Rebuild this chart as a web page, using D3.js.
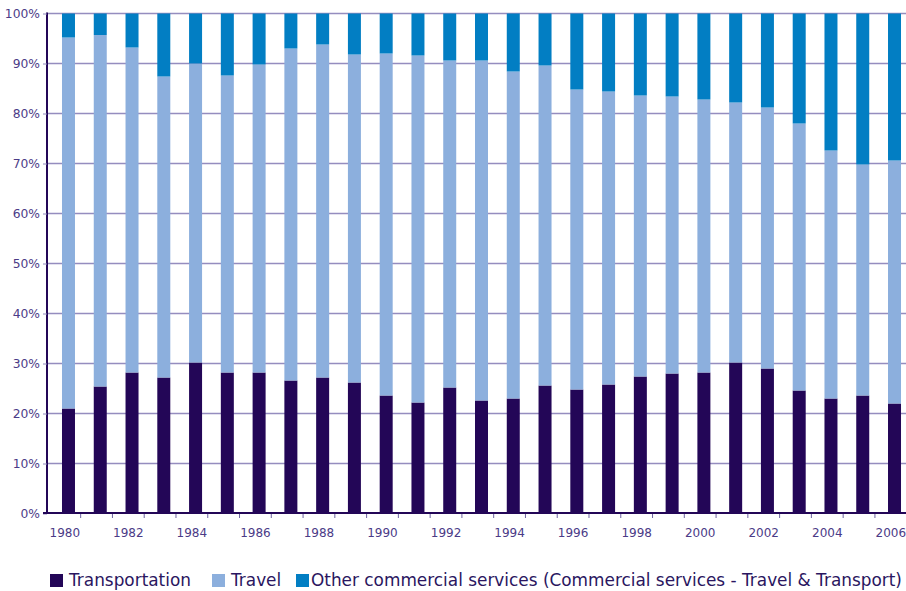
<!DOCTYPE html>
<html><head><meta charset="utf-8">
<script src="https://cdn.jsdelivr.net/npm/d3@7"></script>
<style>body{margin:0;background:#fff}svg{display:block}text{font-family:"DejaVu Sans",sans-serif}</style>
</head><body><svg id="c" width="906" height="591"></svg>
<script>
const years = [1980,1981,1982,1983,1984,1985,1986,1987,1988,1989,1990,1991,1992,1993,1994,1995,1996,1997,1998,1999,2000,2001,2002,2003,2004,2005,2006];
const transportation = [21.0,25.4,28.2,27.2,30.2,28.2,28.2,26.6,27.2,26.2,23.6,22.2,25.2,22.6,23.0,25.6,24.8,25.8,27.4,28.0,28.2,30.2,29.0,24.6,23.0,23.6,22.0];
const travel = [74.2,70.3,65.0,60.2,59.8,59.4,61.6,66.4,66.6,65.6,68.4,69.4,65.4,68.0,65.4,64.0,60.0,58.6,56.2,55.4,54.6,52.0,52.2,53.4,49.6,46.2,48.6];
const other = [4.8,4.3,6.8,12.6,10.0,12.4,10.2,7.0,6.2,8.2,8.0,8.4,9.4,9.4,11.6,10.4,15.2,15.6,16.4,16.6,17.2,17.8,18.8,22.0,27.4,30.2,29.4];
const seriesNames = ["Transportation","Travel","Other commercial services (Commercial services - Travel & Transport)"];
const yTicks = [0,0.1,0.2,0.3,0.4,0.5,0.6,0.7,0.8,0.9,1.0];
const xLabelYears = years.filter((d,i)=>i%2===0);
const colors = ["#230657","#8cafdd","#027ec3"];

const rows = years.map((y,i)=>({year:y, t:transportation[i], v:travel[i], o:other[i]}));
const keys = ["t","v","o"];
const stack = d3.stack().keys(keys).offset(d3.stackOffsetExpand);
const series = stack(rows);

const svg = d3.select("#c");
const x0 = 48.9, x1 = 906.7;
const x = d3.scaleBand().domain(years).range([x0,x1]).paddingInner(0.591).paddingOuter(0.2955).align(0.697);
const step = x.step();
const y = d3.scaleLinear().domain([0,1]).range([513.5,13.5]);

// gridlines
svg.append("g").selectAll("line").data(yTicks.slice(1)).join("line")
  .attr("x1",47).attr("x2",906).attr("y1",d=>y(d)).attr("y2",d=>y(d))
  .attr("stroke","#958dbf").attr("stroke-width",1.5);

// bars
svg.append("g").selectAll("g").data(series).join("g").attr("fill",(d,i)=>colors[i])
  .selectAll("rect").data(d=>d).join("rect")
  .attr("x",d=>x(d.data.year)).attr("width",x.bandwidth())
  .attr("y",d=>y(d[1])).attr("height",d=>y(d[0])-y(d[1]));

// y axis
const yAxis = d3.axisLeft(y).tickValues(yTicks).tickFormat(d3.format(".0%")).tickSize(4).tickPadding(3);
const gy = svg.append("g").attr("transform","translate(47,0)").call(yAxis);
gy.select(".domain").attr("stroke","#230657").attr("stroke-width",2).attr("d","M0,12.5V514");
gy.selectAll(".tick line").attr("stroke","#9088bb");
gy.selectAll(".tick text").attr("font-size",12.3).attr("fill","#4b3b87").attr("font-family","DejaVu Sans");

// x axis: ticks at category boundaries
const boundaries = d3.range(1, years.length+1).map(i=>x.range()[0]+i*step);
svg.append("g").selectAll("line").data(boundaries).join("line")
  .attr("x1",d=>d).attr("x2",d=>d).attr("y1",513).attr("y2",518)
  .attr("stroke","#6e64a0").attr("stroke-width",1);
svg.append("line").attr("x1",43).attr("x2",906).attr("y1",513).attr("y2",513)
  .attr("stroke","#230657").attr("stroke-width",2);
svg.append("g").selectAll("text").data(xLabelYears).join("text")
  .attr("x",d=>x.range()[0]+(years.indexOf(d)+0.5)*step).attr("y",537)
  .attr("text-anchor","middle").attr("font-size",12).attr("fill","#4b3b87").text(d=>d);

// legend
const legendX = [50,212,296];
const lg = svg.append("g");
seriesNames.forEach((n,i)=>{
  lg.append("rect").attr("x",legendX[i]).attr("y",574).attr("width",13).attr("height",13).attr("fill",colors[i]);
  lg.append("text").attr("x",legendX[i]+(i===2?15:19)).attr("y",586).attr("font-size",16.9).attr("fill","#2a1660").text(n);
});
</script></body></html>
